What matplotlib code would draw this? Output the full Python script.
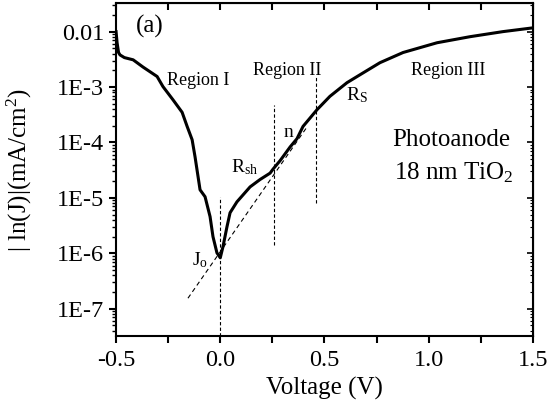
import numpy as np
import matplotlib
matplotlib.use('Agg')
import matplotlib.pyplot as plt
from matplotlib.ticker import FixedLocator, FixedFormatter, LogLocator, NullFormatter, MultipleLocator

plt.rcParams['font.family'] = ['Liberation Serif', 'DejaVu Serif']
plt.rcParams['mathtext.fontset'] = 'custom'
plt.rcParams['mathtext.rm'] = 'Liberation Serif'
plt.rcParams['mathtext.it'] = 'Liberation Serif'

# J-V curve
volt = [-0.500, -0.495, -0.488, -0.481, -0.460, -0.418, -0.371, -0.303, -0.275,
        -0.227, -0.183, -0.159, -0.135, -0.121, -0.097, -0.073, -0.049, -0.035,
        -0.016, 0.000, 0.013, 0.032, 0.047, 0.080, 0.143, 0.191, 0.239, 0.253,
        0.287, 0.335, 0.368, 0.397, 0.464, 0.526, 0.608, 0.685, 0.766, 0.877,
        1.040, 1.198, 1.356, 1.500]
curr = [1.0e-2, 6.3e-3, 4.2e-3, 3.8e-3, 3.4e-3, 3.1e-3, 2.3e-3, 1.55e-3, 1.02e-3,
        5.9e-4, 3.5e-4, 1.95e-4, 1.12e-4, 5.5e-5, 1.4e-5, 1.05e-5, 4.6e-6, 2.0e-6,
        1.02e-6, 8.3e-7, 1.32e-6, 3.0e-6, 5.4e-6, 8.5e-6, 1.58e-5, 2.15e-5, 2.8e-5, 3.3e-5,
        4.7e-5, 8.3e-5, 1.17e-4, 1.95e-4, 3.9e-4, 6.8e-4, 1.2e-3, 1.8e-3, 2.75e-3, 4.2e-3,
        6.3e-3, 8.1e-3, 1.0e-2, 1.17e-2]

# tangent (ideal diode) line
fit_v = [-0.155, 0.42]
fit_j = [1.55e-7, 2.0e-4]

# region separators: (V, J bottom, J top)
sep_v = [0.0, 0.258, 0.459]
sep_lo = [3.2e-8, 1.4e-6, 8.1e-6]
sep_hi = [1.05e-5, 4.8e-4, 1.55e-3]

yticks = [1e-2, 1e-3, 1e-4, 1e-5, 1e-6, 1e-7]
ylabels = ['0.01', '1E-3', '1E-4', '1E-5', '1E-6', '1E-7']

fig = plt.figure(figsize=(5.5, 4.12), dpi=100)
ax = fig.add_axes([0.211, 0.184, 0.758, 0.809])

ax.plot(volt, curr, color='black', lw=2.2)
ax.plot(fit_v, fit_j, color='black', lw=0.8, ls=(0, (4, 3)))
for v, lo, hi in zip(sep_v, sep_lo, sep_hi):
    ax.plot([v, v], [lo, hi], color='black', lw=0.8, ls=(0, (3, 2)))

ax.set_yscale('log')
ax.set_xlim(-0.5, 1.5)
ax.set_ylim(3.2e-8, 3.3e-2)
ax.yaxis.set_major_locator(FixedLocator(yticks))
ax.yaxis.set_major_formatter(FixedFormatter(ylabels))
ax.yaxis.set_minor_locator(LogLocator(base=10, subs=np.arange(2, 10), numticks=20))
ax.yaxis.set_minor_formatter(NullFormatter())
ax.xaxis.set_major_locator(MultipleLocator(0.5))
ax.xaxis.set_minor_locator(MultipleLocator(0.25))
ax.xaxis.set_major_formatter(plt.FuncFormatter(lambda x, p: f'{x:.1f}'))

for s in ax.spines.values():
    s.set_linewidth(1.5)
ax.tick_params(which='major', direction='out', length=5, width=1.5, labelsize=17.5)
ax.tick_params(which='minor', direction='out', length=3, width=1.0)
ax.tick_params(axis='x', which='minor', length=5, width=1.5)
ax.tick_params(axis='x', which='major', pad=5)

# mirrored ticks pointing inward on top and right
top = ax.secondary_xaxis('top')
top.xaxis.set_major_locator(MultipleLocator(0.5))
top.xaxis.set_minor_locator(MultipleLocator(0.25))
top.tick_params(which='both', direction='in', length=5, width=1.5, labeltop=False)
right = ax.secondary_yaxis('right')
right.yaxis.set_major_locator(FixedLocator(yticks))
right.yaxis.set_minor_locator(LogLocator(base=10, subs=np.arange(2, 10), numticks=20))
right.tick_params(which='major', direction='in', length=4, width=1.2, labelright=False)
right.tick_params(which='minor', direction='in', length=2, width=0.8, labelright=False)

ax.set_xlabel('Voltage (V)', fontsize=18)
ax.set_ylabel('| ln(J)|(mA/cm$^2$)', fontsize=18)
ax.yaxis.set_label_coords(-0.198, 0.5)

ax.text(-0.337, 10**-1.91, '(a)', fontsize=18, ha='center', va='center')
ax.text(-0.107, 10**-2.88, 'Region I', fontsize=13, ha='center', va='center')
ax.text(0.32, 10**-2.70, 'Region II', fontsize=13, ha='center', va='center')
ax.text(1.092, 10**-2.70, 'Region III', fontsize=13, ha='center', va='center')
ax.text(0.656, 10**-3.14, 'R$_\\mathrm{S}$', fontsize=14, ha='center', va='center')
ax.text(0.325, 10**-3.82, 'n', fontsize=14, ha='center', va='center')
ax.text(0.119, 10**-4.45, 'R$_\\mathrm{sh}$', fontsize=14, ha='center', va='center')
ax.text(-0.097, 10**-6.13, 'J$_\\mathrm{o}$', fontsize=14, ha='center', va='center')
ax.text(1.11, 10**-3.95, 'Photoanode', fontsize=18, ha='center', va='center')
ax.text(1.12, 10**-4.55, '18 nm TiO$_\\mathrm{2}$', fontsize=18, ha='center', va='center')

fig.savefig('out.png', dpi=100)
